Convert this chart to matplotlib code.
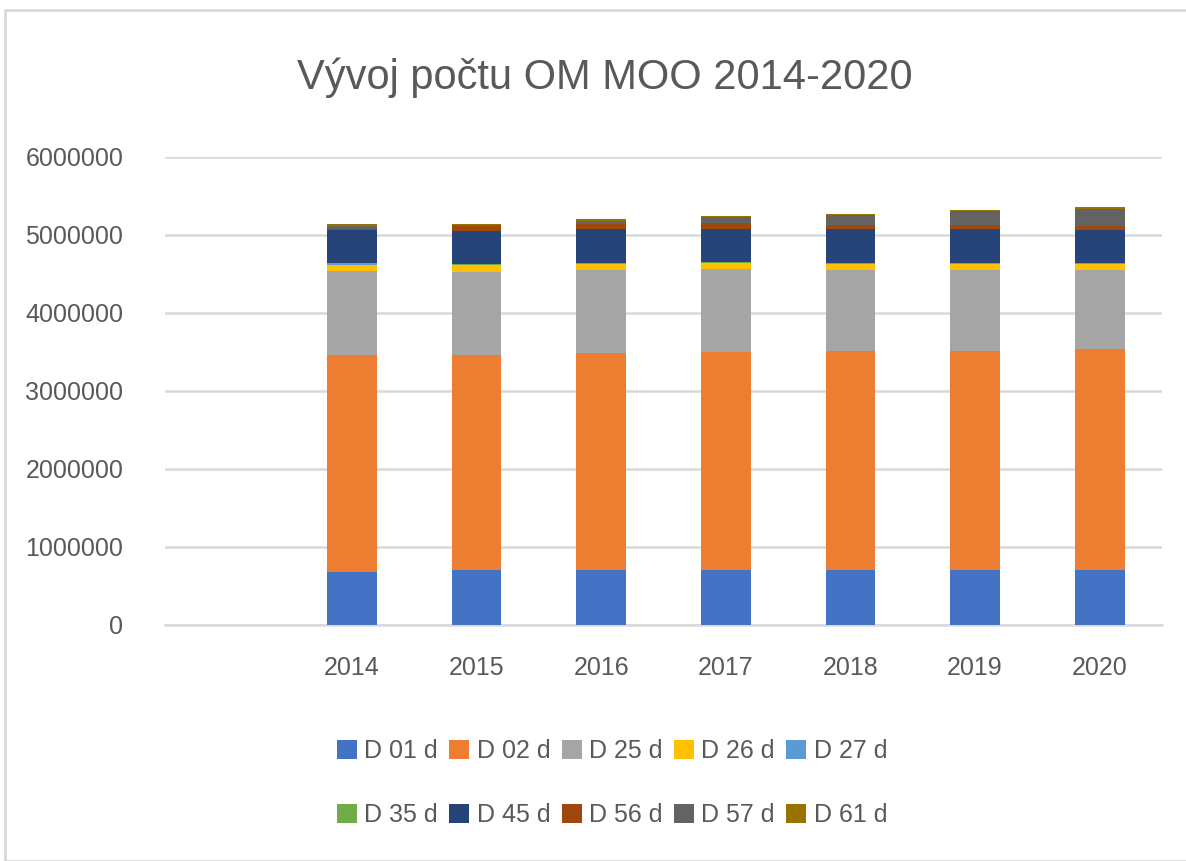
import matplotlib
matplotlib.use("Agg")
import matplotlib.pyplot as plt
from matplotlib.patches import Rectangle
import numpy as np

plt.rcParams['font.family'] = ['Liberation Sans Narrow', 'Liberation Sans', 'DejaVu Sans']

# data; the first category is empty in the original
years = ['', '2014', '2015', '2016', '2017', '2018', '2019', '2020']
series = ['D 01 d', 'D 02 d', 'D 25 d', 'D 26 d', 'D 27 d',
          'D 35 d', 'D 45 d', 'D 56 d', 'D 57 d', 'D 61 d']
d01 = [0, 680000, 700000, 705000, 705000, 705000, 705000, 705000]
d02 = [0, 2780000, 2760000, 2780000, 2795000, 2810000, 2810000, 2830000]
d25 = [0, 1080000, 1070000, 1070000, 1060000, 1040000, 1040000, 1010000]
d26 = [0, 80000, 80000, 75000, 75000, 78000, 78000, 78000]
d27 = [0, 5000, 5000, 5000, 5000, 5000, 5000, 5000]
d35 = [0, 12000, 12000, 8000, 8000, 8000, 8000, 8000]
d45 = [0, 430000, 430000, 428000, 428000, 430000, 430000, 430000]
d56 = [0, 5000, 55000, 75000, 72000, 52000, 52000, 52000]
d57 = [0, 45000, 10000, 38000, 78000, 125000, 175000, 218000]
d61 = [0, 18000, 22000, 18000, 18000, 18000, 18000, 22000]
colors = ['#4472c4', '#ed7d31', '#a5a5a5', '#ffc000', '#5b9bd5',
          '#70ad47', '#264478', '#9e480e', '#636363', '#997300']

values = [d01, d02, d25, d26, d27, d35, d45, d56, d57, d61]

fig = plt.figure(figsize=(11.86, 8.61), dpi=100)
ax = fig.add_axes([165 / 1186, 1 - 625 / 861, 997 / 1186, 468 / 861])

x = np.arange(len(years))
bottom = np.zeros(len(years))
handles = []
for name, vals, c in zip(series, values, colors):
    vals = np.array(vals, dtype=float)
    h = ax.bar(x, vals, 0.4, bottom=bottom, color=c, label=name, zorder=3)
    handles.append(h)
    bottom += vals

text_col = '#595959'
ax.set_ylim(0, 6000000)
ax.set_xlim(-0.5, len(years) - 0.5)
ax.set_yticks(np.arange(0, 6000001, 1000000))
ax.set_yticklabels([str(v) for v in range(0, 6000001, 1000000)])
ax.set_xticks(x)
ax.set_xticklabels(years)
ax.tick_params(axis='both', length=0, labelsize=18, colors=text_col)
ax.tick_params(axis='x', pad=22)
ax.tick_params(axis='y', pad=30)
ax.grid(axis='y', color='#d9d9d9', linewidth=1.8, zorder=0)
for s in ['top', 'right', 'left']:
    ax.spines[s].set_visible(False)
ax.spines['bottom'].set_color('#d9d9d9')
ax.spines['bottom'].set_linewidth(1.8)

fig.text(605 / 1186, 1 - 78 / 861, 'Vývoj počtu OM MOO 2014-2020',
         ha='center', va='center', fontsize=30, color=text_col)

# legend is filled row by row in the original
order = [0, 5, 1, 6, 2, 7, 3, 8, 4, 9]
fig.legend(handles=[handles[i] for i in order], labels=[series[i] for i in order],
           ncol=5, loc='center',
           bbox_to_anchor=(612 / 1186, 1 - 783 / 861), frameon=False,
           fontsize=18, labelcolor=text_col, handlelength=0.8, handleheight=0.8,
           handletextpad=0.3, columnspacing=0.45, labelspacing=1.6)

# light frame like the screenshot border
fig.patches.append(Rectangle((5 / 1186, 0), 1.2, 1 - 10 / 861,
                             transform=fig.transFigure, fill=False,
                             edgecolor='#d9d9d9', linewidth=2))

fig.savefig('out.png', dpi=100)
